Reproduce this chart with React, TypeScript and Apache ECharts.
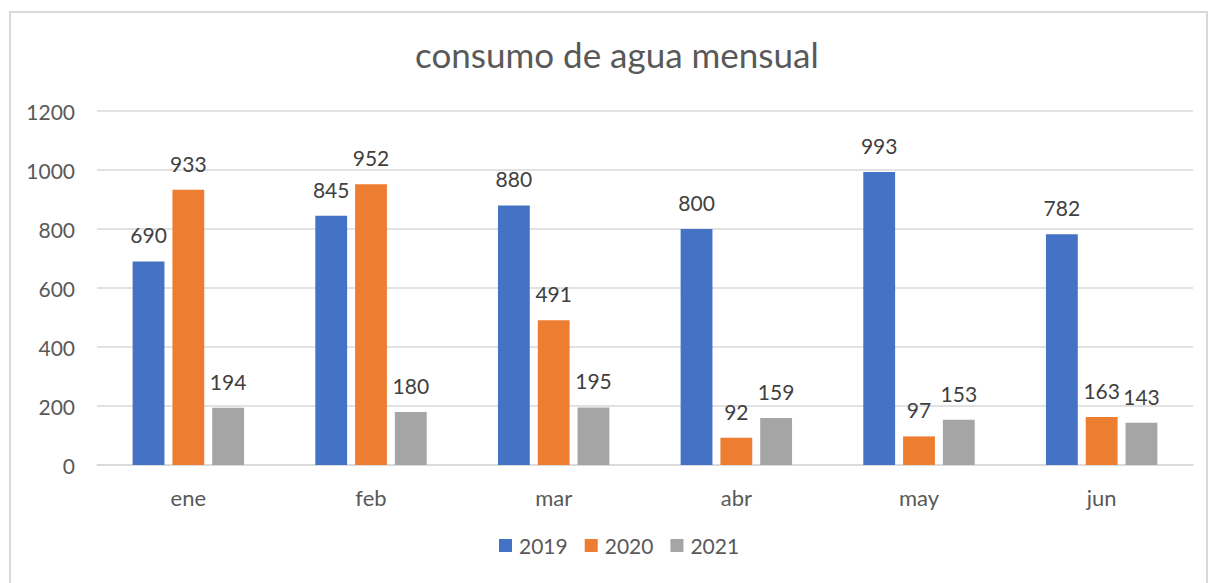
import React, { useEffect, useRef } from "react";
import * as echarts from "echarts";

const categories = ["ene", "feb", "mar", "abr", "may", "jun"];
const s2019 = [690, 845, 880, 800, 993, 782];
const s2020 = [933, 952, 491, 92, 97, 163];
const s2021 = [194, 180, 195, 159, 153, 143];
const seriesNames = ["2019", "2020", "2021"];
const colors = ["#4472C4", "#ED7D31", "#A5A5A5"];

const FONT = "Lato, 'Open Sans', sans-serif";

export default function App() {
  const ref = useRef<HTMLDivElement>(null);
  useEffect(() => {
    if (!ref.current) return;
    const chart = echarts.init(ref.current, null, { renderer: "svg" });
    const data = [s2019, s2020, s2021];
    chart.setOption({
      animation: false,
      backgroundColor: "#ffffff",
      textStyle: { fontFamily: FONT },
      title: {
        text: "consumo de agua mensual",
        left: 410,
        top: 31,
        textStyle: { fontFamily: FONT, fontSize: 35, fontWeight: "normal", color: "#595959" },
      },
      graphic: [
        {
          type: "rect",
          shape: { x: 10, y: 12, width: 1197, height: 590 },
          style: { fill: "none", stroke: "#d9d9d9", lineWidth: 2 },
          silent: true,
        },
      ],
      legend: {
        data: seriesNames,
        bottom: 22,
        left: 494,
        itemWidth: 13,
        itemHeight: 13,
        itemGap: 17,
        icon: "rect",
        textStyle: { fontFamily: FONT, fontSize: 21, color: "#595959", padding: [0, 0, 0, 2] },
      },
      grid: { left: 97, right: 22, top: 111, bottom: 118 },
      xAxis: {
        type: "category",
        data: categories,
        axisLine: { lineStyle: { color: "#d9d9d9", width: 1.5 } },
        axisTick: { show: false },
        axisLabel: { fontFamily: FONT, fontSize: 22, color: "#595959", margin: 21 },
      },
      yAxis: {
        type: "value",
        min: 0,
        max: 1200,
        interval: 200,
        axisLine: { show: false },
        axisTick: { show: false },
        splitLine: { lineStyle: { color: "#d9d9d9", width: 1.5 } },
        axisLabel: {
          fontFamily: FONT,
          fontSize: 21,
          color: "#595959",
          margin: 22,
          formatter: (v: number) => String(v),
        },
      },
      series: seriesNames.map((name, i) => ({
        name,
        type: "bar",
        data: data[i],
        barGap: "25%",
        barCategoryGap: "39%",
        itemStyle: { color: colors[i] },
        label: {
          show: true,
          position: "top",
          distance: 16,
          fontFamily: FONT,
          fontSize: 21,
          color: "#404040",
        },
      })),
    });
    return () => chart.dispose();
  }, []);
  return (
    <div
      ref={ref}
      style={{ position: "fixed", left: 0, top: 0, width: 1215, height: 583 }}
    />
  );
}
